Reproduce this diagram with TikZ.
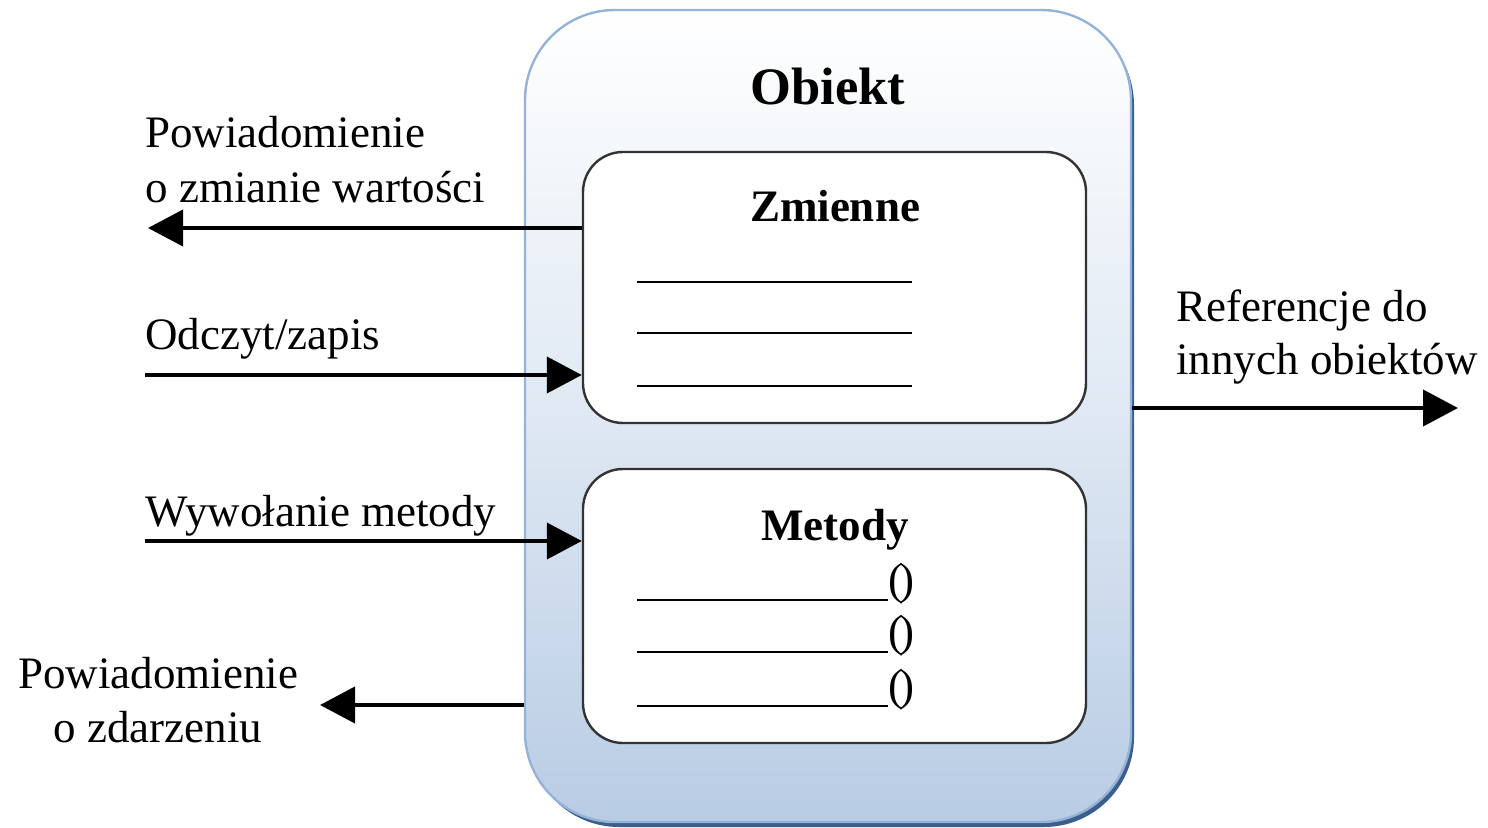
\documentclass[tikz,border=0pt]{standalone}
\usepackage{fontspec}
\setmainfont{Liberation Serif}
\usetikzlibrary{arrows.meta}
\definecolor{objbot}{HTML}{B8CCE4}
\definecolor{objborder}{HTML}{95B3D7}
\definecolor{objshadow}{HTML}{3B5E8C}
\begin{document}
\begin{tikzpicture}[x=0.5pt,y=-0.5pt,
  lbl/.style={font=\fontsize{22.5}{27.5}\selectfont, inner sep=0},
  ttl/.style={font=\fontsize{22.5}{27.5}\selectfont\bfseries, inner sep=0},
  objbox/.style={draw=objborder, line width=1.2pt, top color=white, bottom color=objbot,
    middle color=objbot!45!white,
    rounded corners=45pt, minimum width=303pt, minimum height=406pt, inner sep=0},
  inbox/.style={draw=black!80, line width=1.2pt, fill=white, rounded corners=20pt,
    minimum width=251.5pt, inner sep=0},
  arr/.style={line width=2pt, -{Triangle[length=17.5pt,width=18pt]}},
  blank/.style={line width=1pt}]

\useasboundingbox (0,0) rectangle (1488,828);

% outer object with shadow
\fill[objshadow, rounded corners=45pt] (529,15) rectangle (1134,827);
\node[objbox] (obj) at (828,416) {};
\node[font=\fontsize{26.3}{30}\selectfont\bfseries, anchor=base, inner sep=0] (objt) at (828,105) {Obiekt};

% variables box
\node[inbox, minimum height=135.5pt] (zm) at (834.5,287.5) {};
\node[ttl, anchor=base] (zmt) at (835,222) {Zmienne};
\draw[blank] (637,282) -- (912,282);
\draw[blank] (637,333) -- (912,333);
\draw[blank] (637,386) -- (912,386);

% methods box
\node[inbox, minimum height=137pt] (me) at (834.5,606) {};
\node[ttl, anchor=base] (met) at (835,540) {Metody};
\draw[blank] (637,600) -- (888,600);
\draw[blank] (637,652) -- (888,652);
\draw[blank] (637,706) -- (888,706);
\node[lbl, anchor=base west] (p1) at (888,594) {(\kern-2pt)};
\node[lbl, anchor=base west] (p2) at (888,646) {(\kern-2pt)};
\node[lbl, anchor=base west] (p3) at (888,700) {(\kern-2pt)};

% connectors
\coordinate (a1) at (148,228);
\coordinate (a2) at (145,375);
\coordinate (a3) at (145,541);
\coordinate (a4) at (320,705);
\coordinate (a5) at (1458,408);
\draw[arr] (zm.west |- a1) -- (a1);
\draw[arr] (a2) -- (zm.west |- a2);
\draw[arr] (a3) -- (me.west |- a3);
\draw[arr] (obj.west |- a4) -- (a4);
\draw[arr] (obj.east |- a5) -- (a5);

% labels
\node[lbl, anchor=base west] (l1a) at (145,148) {Powiadomienie};
\node[lbl, anchor=base west] (l1b) at (145,203) {o zmianie wartości};
\node[lbl, anchor=base west] (l2) at (145,350) {Odczyt/zapis};
\node[lbl, anchor=base west] (l3) at (145,526) {Wywołanie metody};
\node[lbl, anchor=base] (l4a) at (158,688) {Powiadomienie};
\node[lbl, anchor=base] (l4b) at (158,742) {o zdarzeniu};
\node[lbl, anchor=base west] (l5a) at (1176,322) {Referencje do};
\node[lbl, anchor=base west] (l5b) at (1176,375) {innych obiektów};
\end{tikzpicture}
\end{document}
